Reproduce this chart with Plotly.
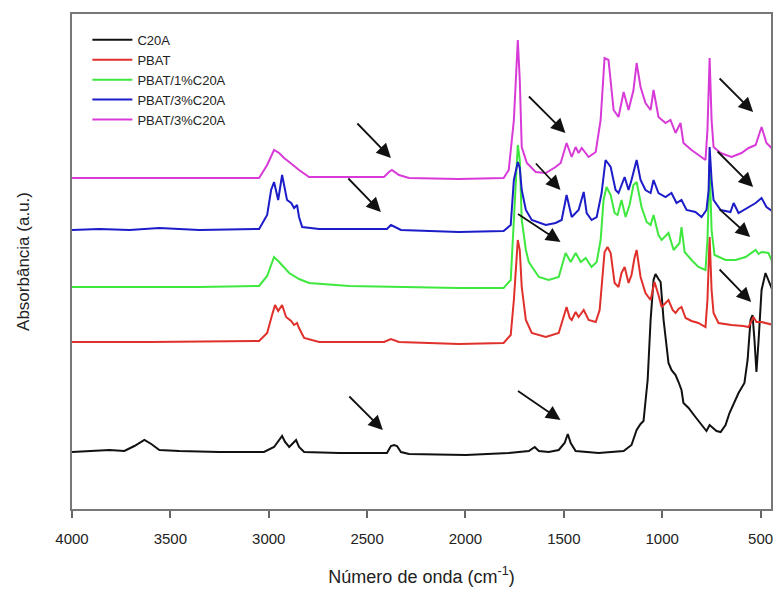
import plotly.graph_objects as go

# ---- data (wavenumber cm^-1, absorbance a.u. with vertical offsets) ----
wn_c20a = [4000, 3911, 3810, 3734, 3683, 3632, 3597, 3556, 3455, 3252, 3024, 2973, 2947, 2932, 2917, 2896,
           2876, 2861, 2846, 2820, 2643, 2399, 2379, 2363, 2348, 2328, 2287, 1998, 1780, 1678, 1648, 1627,
           1577, 1526, 1496, 1480, 1465, 1440, 1323, 1196, 1156, 1130, 1110, 1095, 1074, 1059, 1044, 1034,
           1019, 1008, 993, 968, 953, 932, 917, 902, 892, 866, 831, 800, 775, 759, 744, 724, 703, 678, 658,
           612, 582, 566, 551, 541, 531, 521, 510, 495, 475, 460, 434]
ab_c20a = [0.57, 0.58, 0.59, 0.58, 0.63, 0.69, 0.65, 0.59, 0.58, 0.57, 0.57, 0.62, 0.69, 0.73, 0.67, 0.62,
           0.66, 0.69, 0.62, 0.57, 0.56, 0.56, 0.63, 0.64, 0.63, 0.57, 0.55, 0.54, 0.56, 0.58, 0.62, 0.58,
           0.57, 0.59, 0.66, 0.75, 0.66, 0.58, 0.56, 0.58, 0.64, 0.79, 0.85, 0.88, 1.29, 1.89, 2.29, 2.35,
           2.30, 2.27, 1.89, 1.46, 1.39, 1.34, 1.27, 1.19, 1.06, 1.01, 0.92, 0.84, 0.78, 0.84, 0.81, 0.78,
           0.77, 0.84, 0.96, 1.16, 1.26, 1.49, 1.89, 1.94, 1.69, 1.37, 1.69, 2.19, 2.36, 2.29, 2.16]

wn_pbat = [4000, 3607, 3049, 3008, 2983, 2968, 2952, 2932, 2912, 2886, 2871, 2856, 2846, 2820, 2744, 2414,
           2379, 2338, 2034, 1806, 1770, 1754, 1734, 1724, 1714, 1693, 1663, 1592, 1526, 1501, 1486, 1470,
           1460, 1440, 1425, 1399, 1374, 1338, 1318, 1308, 1293, 1278, 1262, 1242, 1222, 1207, 1191, 1171,
           1156, 1141, 1130, 1110, 1085, 1059, 1039, 1019, 1003, 983, 968, 947, 932, 917, 902, 881, 851,
           816, 780, 770, 759, 749, 739, 714, 648, 587, 561, 536, 521, 495, 460, 434]
ab_pbat = [1.67, 1.67, 1.68, 1.76, 1.94, 2.04, 1.98, 2.04, 1.92, 1.88, 1.84, 1.86, 1.81, 1.71, 1.67, 1.67,
           1.70, 1.67, 1.65, 1.66, 1.74, 2.09, 2.69, 2.59, 2.22, 1.89, 1.76, 1.72, 1.76, 1.91, 2.02, 1.91,
           1.89, 1.97, 1.92, 1.99, 1.89, 1.87, 1.99, 2.22, 2.57, 2.62, 2.56, 2.26, 2.22, 2.36, 2.42, 2.26,
           2.34, 2.51, 2.59, 2.32, 2.16, 2.09, 2.27, 2.14, 2.02, 2.06, 2.09, 1.99, 1.96, 2.00, 2.02, 1.91,
           1.88, 1.86, 1.82, 2.09, 2.72, 2.19, 1.96, 1.86, 1.84, 1.83, 1.82, 1.92, 1.87, 1.87, 1.85, 1.84]

wn_1pct = [4000, 3353, 3049, 3008, 2973, 2947, 2896, 2846, 2795, 2592, 2034, 1806, 1770, 1754, 1734, 1724,
           1714, 1693, 1678, 1627, 1577, 1526, 1506, 1491, 1465, 1440, 1414, 1389, 1359, 1333, 1313, 1298,
           1283, 1262, 1242, 1227, 1207, 1186, 1166, 1146, 1130, 1105, 1079, 1059, 1044, 1019, 1003, 968,
           942, 912, 902, 886, 851, 816, 780, 770, 759, 749, 734, 678, 627, 576, 525, 510, 495, 460, 434]
ab_1pct = [2.22, 2.22, 2.23, 2.33, 2.52, 2.47, 2.36, 2.30, 2.26, 2.23, 2.21, 2.21, 2.29, 2.89, 3.64, 3.49,
           2.89, 2.59, 2.47, 2.32, 2.29, 2.32, 2.47, 2.56, 2.47, 2.56, 2.47, 2.51, 2.42, 2.47, 2.69, 3.09,
           3.22, 3.14, 2.96, 2.94, 3.09, 2.92, 3.04, 3.24, 3.27, 3.02, 2.87, 2.84, 2.94, 2.74, 2.69, 2.76,
           2.59, 2.66, 2.82, 2.57, 2.49, 2.42, 2.39, 2.69, 3.44, 2.79, 2.54, 2.49, 2.49, 2.52, 2.59, 2.55,
           2.57, 2.56, 2.44]

wn_3pct_a = [4000, 3861, 3708, 3556, 3353, 3049, 3008, 2988, 2973, 2962, 2952, 2932, 2917, 2907, 2886, 2871,
             2856, 2846, 2830, 2744, 2399, 2379, 2358, 2328, 2034, 1806, 1770, 1754, 1734, 1724, 1714, 1693,
             1663, 1592, 1542, 1511, 1486, 1460, 1425, 1399, 1384, 1359, 1333, 1308, 1288, 1262, 1237, 1222,
             1191, 1171, 1156, 1130, 1110, 1085, 1059, 1044, 1019, 983, 953, 927, 902, 876, 831, 800, 775,
             764, 759, 749, 739, 703, 653, 637, 612, 561, 525, 495, 470, 434]
ab_3pct_a = [2.79, 2.80, 2.79, 2.81, 2.79, 2.80, 2.94, 3.19, 3.27, 3.17, 3.09, 3.34, 3.21, 3.09, 3.06, 3.01,
             3.04, 2.92, 2.82, 2.80, 2.80, 2.84, 2.82, 2.79, 2.77, 2.78, 2.84, 3.29, 3.47, 3.41, 3.19, 2.99,
             2.89, 2.84, 2.86, 2.89, 3.14, 2.92, 2.99, 3.17, 2.96, 2.89, 2.92, 3.16, 3.49, 3.42, 3.19, 3.16,
             3.32, 3.19, 3.29, 3.49, 3.29, 3.19, 3.16, 3.29, 3.16, 3.12, 3.16, 3.06, 3.09, 2.99, 2.97, 2.92,
             2.99, 3.19, 3.62, 3.29, 3.09, 2.99, 2.97, 3.06, 2.96, 3.02, 3.06, 3.11, 3.02, 2.97]

wn_3pct_b = [4000, 3353, 3049, 3008, 2973, 2947, 2922, 2896, 2846, 2795, 2414, 2389, 2374, 2338, 2287, 2034,
             1806, 1780, 1754, 1734, 1724, 1714, 1688, 1643, 1592, 1542, 1516, 1486, 1460, 1440, 1425, 1409,
             1374, 1338, 1313, 1293, 1273, 1247, 1222, 1196, 1171, 1146, 1130, 1110, 1085, 1059, 1044, 1019,
             983, 958, 932, 907, 892, 851, 805, 780, 770, 759, 749, 739, 703, 648, 597, 561, 525, 495, 470, 434]
ab_3pct_b = [3.31, 3.31, 3.31, 3.44, 3.59, 3.56, 3.51, 3.47, 3.39, 3.32, 3.32, 3.37, 3.39, 3.34, 3.31, 3.30,
             3.31, 3.39, 3.89, 4.69, 4.29, 3.62, 3.46, 3.37, 3.36, 3.42, 3.46, 3.66, 3.52, 3.62, 3.56, 3.61,
             3.52, 3.57, 3.89, 4.51, 4.49, 3.99, 3.92, 4.17, 3.99, 4.19, 4.46, 4.22, 4.06, 3.99, 4.19, 3.92,
             3.86, 3.89, 3.76, 3.86, 3.66, 3.59, 3.52, 3.49, 3.79, 4.51, 3.89, 3.62, 3.56, 3.52, 3.56, 3.61,
             3.64, 3.82, 3.66, 3.59]

series_names = ["C20A", "PBAT", "PBAT/1%C20A", "PBAT/3%C20A", "PBAT/3%C20A"]
series_x = [wn_c20a, wn_pbat, wn_1pct, wn_3pct_a, wn_3pct_b]
series_y = [ab_c20a, ab_pbat, ab_1pct, ab_3pct_a, ab_3pct_b]
series_colors = ["#111111", "#e0302c", "#3ee83e", "#1c1cc8", "#d83ad8"]

x_ticks = [4000, 3500, 3000, 2500, 2000, 1500, 1000, 500]

# arrow annotations: (head wavenumber, head absorbance, tail dx px, tail dy px)
arrow_wn = [2379, 2430, 2420, 1492, 1517, 1517, 1517, 538, 538, 553, 548]
arrow_ab = [3.51, 2.97, 0.79, 3.76, 3.19, 2.67, 0.89, 3.97, 3.22, 2.72, 2.07]
arrow_dx = [-35, -34, -35, -38, -26, -44, -44, -35, -37, -32, -33]
arrow_dy = [-36, -35, -35, -38, -28, -29, -30, -35, -37, -29, -34]

fig = go.Figure()
for name, xs, ys, col in zip(series_names, series_x, series_y, series_colors):
    fig.add_trace(go.Scatter(x=xs, y=ys, mode="lines", name=name,
                             line=dict(color=col, width=2)))

for hx, hy, dx, dy in zip(arrow_wn, arrow_ab, arrow_dx, arrow_dy):
    fig.add_annotation(x=hx, y=hy, ax=dx, ay=dy, xref="x", yref="y",
                       showarrow=True, arrowhead=2, arrowsize=1.6, arrowwidth=1.8,
                       arrowcolor="#111111", text="")

font_family = "Arial, Liberation Sans, sans-serif"
fig.update_layout(
    width=776, height=593,
    margin=dict(l=72, r=3, t=14, b=84),
    paper_bgcolor="white", plot_bgcolor="white",
    font=dict(family=font_family, color="#222222"),
    showlegend=True,
    legend=dict(x=0.022, y=0.978, xanchor="left", yanchor="top",
                bgcolor="rgba(0,0,0,0)", font=dict(size=13, color="#222222"),
                tracegroupgap=0, itemwidth=40),
    xaxis=dict(range=[4000, 447], tickvals=x_ticks, ticks="outside", ticklen=7,
               tickwidth=1.5, tickcolor="#666666", ticklabelstandoff=8,
               showline=True, linecolor="#777777", linewidth=2, mirror=True,
               showgrid=False, zeroline=False,
               tickfont=dict(size=15, color="#222222"),
               title=dict(text="Número de onda (cm<sup>-1</sup>)", font=dict(size=18, color="#222222"),
                          standoff=24)),
    yaxis=dict(range=[0, 4.95], showticklabels=False, ticks="",
               showline=True, linecolor="#777777", linewidth=2, mirror=True,
               showgrid=False, zeroline=False,
               title=dict(text="Absorbância (a.u.)", font=dict(size=17, color="#222222"),
                          standoff=36)),
)

fig.write_html("out.html")
